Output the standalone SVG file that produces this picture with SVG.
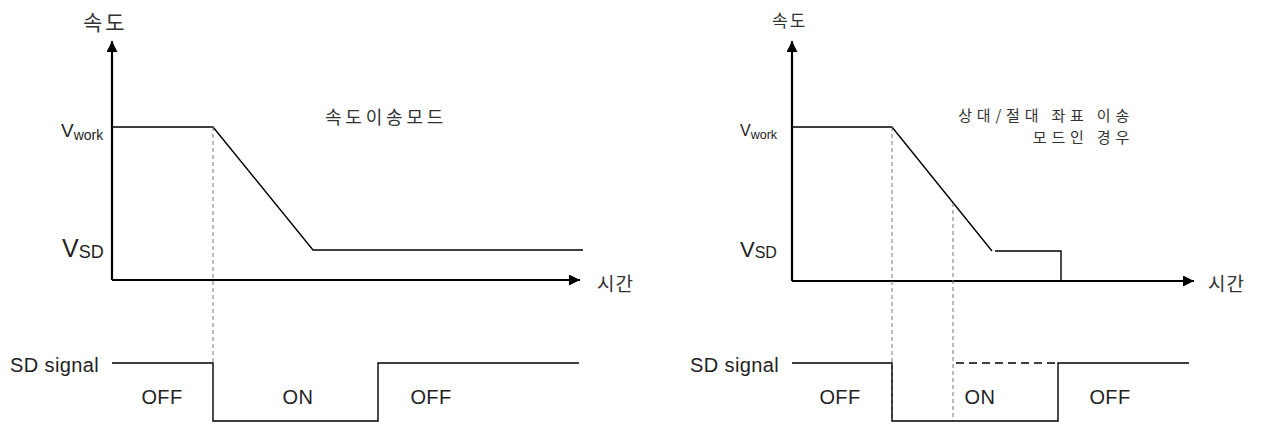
<svg xmlns="http://www.w3.org/2000/svg" width="1265" height="424" viewBox="0 0 1265 424">
<style>
.ax{stroke:#000;stroke-width:2.2;fill:none}
.ln{stroke:#000;stroke-width:1.4;fill:none}
.dl{stroke:#777;stroke-width:1;stroke-dasharray:4 3;fill:none}
.dh{stroke:#000;stroke-width:1.4;stroke-dasharray:8 5;fill:none}
.t{font-family:"Liberation Sans","Noto Sans CJK KR",sans-serif;fill:#222}
.k{font-family:"Noto Sans CJK KR","Liberation Sans",sans-serif;fill:#333}
.s{font-size:20px;letter-spacing:0.4px}
</style>
<defs>
<marker id="ah" viewBox="0 0 10 10" refX="10" refY="5" markerWidth="5" markerHeight="5" orient="auto" markerUnits="strokeWidth">
<path d="M0,0 L10,5 L0,10 z" fill="#000"/>
</marker>
</defs>
<g id="connectors">
<path class="ax" d="M112,280 V41" marker-end="url(#ah)"/>
<path class="ax" d="M112,280 H580" marker-end="url(#ah)"/>
<path class="ln" d="M112,127 H213 L313,250 H583"/>
<path class="dl" d="M213,127 V364"/>
<path class="ln" d="M112,363 H213 V421 H378 V363 H579"/>
<path class="ax" d="M792,281 V41" marker-end="url(#ah)"/>
<path class="ax" d="M792,281 H1194" marker-end="url(#ah)"/>
<path class="ln" d="M792,127 H892 L992,251"/>
<path class="ln" d="M995,251 H1061 V281"/>
<path class="dl" d="M892,127 V421"/>
<path class="dl" d="M953,203 V421"/>
<path class="ln" d="M792,363 H892 V421 H1058 V363 H1189"/>
<path class="dh" d="M956,363 H1058"/>
</g>
<g id="left-labels">
<text class="k" x="83" y="30" font-size="21" letter-spacing="3">속도</text>
<text class="t" x="61" y="137" font-size="19">V<tspan font-size="14" dy="3">work</tspan></text>
<text class="t" x="62" y="257" font-size="25">V<tspan font-size="18" dy="1">SD</tspan></text>
<text class="k" x="597" y="291" font-size="19" letter-spacing="1">시간</text>
<text class="k" x="325" y="124" font-size="18" letter-spacing="3.8">속도이송모드</text>
<text class="t s" x="10" y="372">SD signal</text>
<text class="t s" x="162" y="404" text-anchor="middle">OFF</text>
<text class="t s" x="298" y="404" text-anchor="middle">ON</text>
<text class="t s" x="431" y="404" text-anchor="middle">OFF</text>
</g>
<g id="right-labels">
<text class="k" x="772" y="27" font-size="17" letter-spacing="2">속도</text>
<text class="t" x="740" y="136" font-size="16">V<tspan font-size="12.5" dy="3">work</tspan></text>
<text class="t" x="740" y="257" font-size="22">V<tspan font-size="16" dy="1">SD</tspan></text>
<text class="k" x="1208" y="291" font-size="19" letter-spacing="1">시간</text>
<text class="k" x="1134" y="121" font-size="15" letter-spacing="4.8" text-anchor="end">상대/절대 좌표 이송</text>
<text class="k" x="1134" y="143" font-size="15" letter-spacing="4.8" text-anchor="end">모드인 경우</text>
<text class="t s" x="690" y="372">SD signal</text>
<text class="t s" x="840" y="404" text-anchor="middle">OFF</text>
<text class="t s" x="980" y="404" text-anchor="middle">ON</text>
<text class="t s" x="1110" y="404" text-anchor="middle">OFF</text>
</g>
</svg>
